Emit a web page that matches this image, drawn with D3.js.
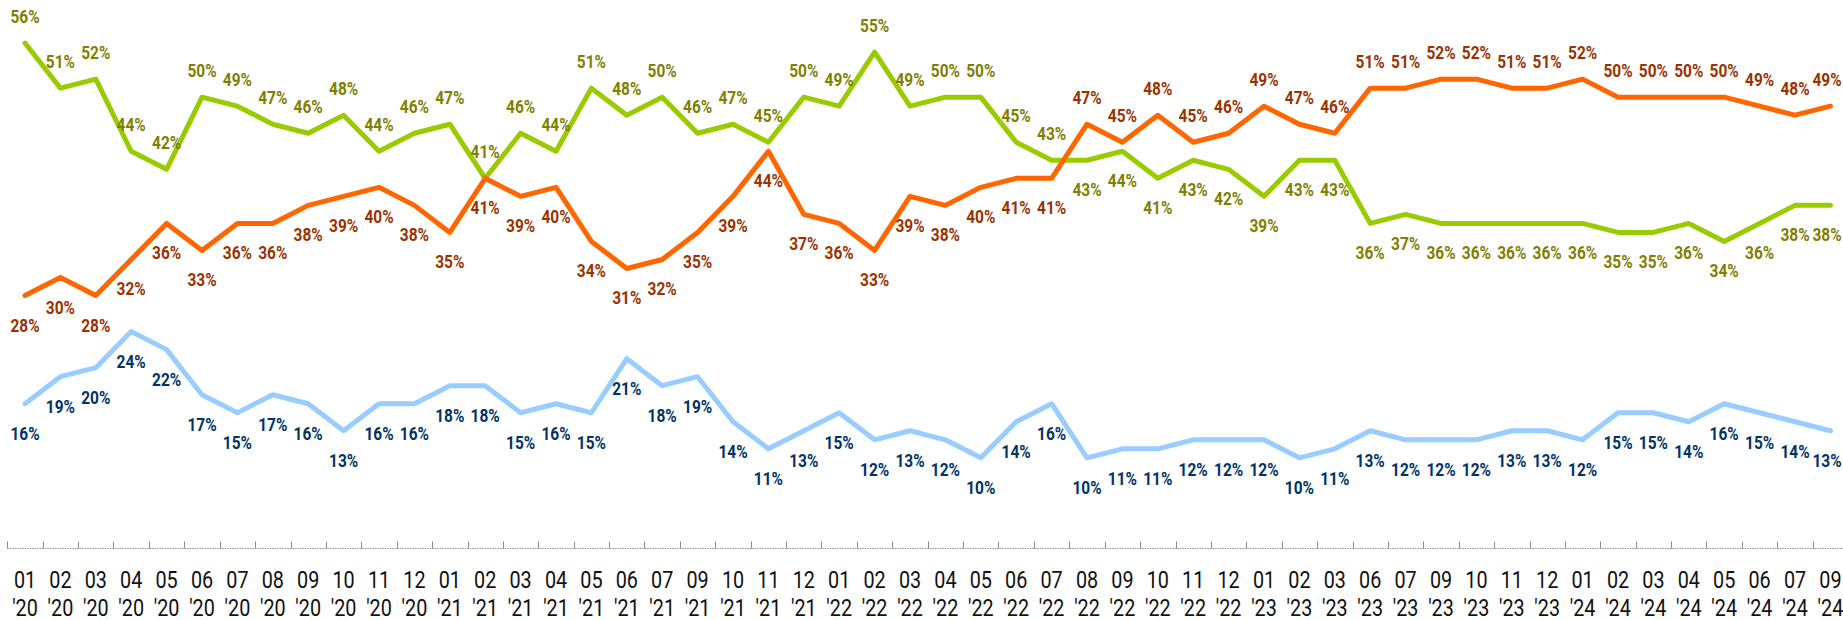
<!DOCTYPE html>
<html lang="en">
<head>
    <meta charset="UTF-8">
    <title>Line Chart</title>
    <script src="https://d3js.org/d3.v7.min.js"></script>
    <style>
        body { margin: 0; background: #fff; }
        svg text { font-family: Roboto, "Noto Sans", sans-serif; }
    </style>
</head>
<body>
<script>
    var periods = [
        "01 '20", "02 '20", "03 '20", "04 '20", "05 '20", "06 '20", "07 '20", "08 '20", "09 '20", "10 '20", "11 '20", "12 '20",
        "01 '21", "02 '21", "03 '21", "04 '21", "05 '21", "06 '21", "07 '21", "09 '21", "10 '21", "11 '21", "12 '21",
        "01 '22", "02 '22", "03 '22", "04 '22", "05 '22", "06 '22", "07 '22", "08 '22", "09 '22", "10 '22", "11 '22", "12 '22",
        "01 '23", "02 '23", "03 '23", "06 '23", "07 '23", "09 '23", "10 '23", "11 '23", "12 '23",
        "01 '24", "02 '24", "03 '24", "04 '24", "05 '24", "06 '24", "07 '24", "09 '24"
    ];

    var greenValues = [
        56, 51, 52, 44, 42, 50, 49, 47, 46, 48, 44, 46,
        47, 41, 46, 44, 51, 48, 50, 46, 47, 45, 50,
        49, 55, 49, 50, 50, 45, 43, 43, 44, 41, 43, 42,
        39, 43, 43, 36, 37, 36, 36, 36, 36,
        36, 35, 35, 36, 34, 36, 38, 38
    ];

    var orangeValues = [
        28, 30, 28, 32, 36, 33, 36, 36, 38, 39, 40, 38,
        35, 41, 39, 40, 34, 31, 32, 35, 39, 44, 37,
        36, 33, 39, 38, 40, 41, 41, 47, 45, 48, 45, 46,
        49, 47, 46, 51, 51, 52, 52, 51, 51,
        52, 50, 50, 50, 50, 49, 48, 49
    ];

    var blueValues = [
        16, 19, 20, 24, 22, 17, 15, 17, 16, 13, 16, 16,
        18, 18, 15, 16, 15, 21, 18, 19, 14, 11, 13,
        15, 12, 13, 12, 10, 14, 16, 10, 11, 11, 12, 12,
        12, 10, 11, 13, 12, 12, 12, 13, 13,
        12, 15, 15, 14, 16, 15, 14, 13
    ];

    var svgWidth = 1843, svgHeight = 620;
    var squeeze = 0.86;

    var svg = d3.select('body')
        .append('svg')
        .attr('width', svgWidth)
        .attr('height', svgHeight);

    var xScale = d3.scaleBand()
        .domain(d3.range(periods.length))
        .range([7.3, 7.3 + periods.length * 35.4]);

    var yScale = d3.scaleLinear()
        .domain([0, 60])
        .range([548, 7]);

    var cx = function(i) { return xScale(i) + xScale.bandwidth() / 2; };

    // keep the last labels inside the picture
    var labelX = function(i) { return Math.min(cx(i), svgWidth - 16); };

    // label goes above the line when this series is the higher one
    var series = [
        { values: greenValues, stroke: '#99cc00', textColor: '#808000',
          above: function(i) { return greenValues[i] >= orangeValues[i]; } },
        { values: orangeValues, stroke: '#ff6600', textColor: '#993300',
          above: function(i) { return orangeValues[i] > greenValues[i]; } },
        { values: blueValues, stroke: '#99ccff', textColor: '#003366',
          above: function() { return false; } }
    ];

    var line = d3.line()
        .x(function(d, i) { return cx(i); })
        .y(function(d) { return yScale(d); });

    // axis
    var axisY = 548.5;
    svg.append('line')
        .attr('x1', xScale.range()[0]).attr('x2', xScale.range()[1])
        .attr('y1', axisY).attr('y2', axisY)
        .attr('stroke', '#8c8c8c')
        .attr('stroke-width', 1)
        .attr('stroke-dasharray', '1.5,1');

    svg.selectAll('.tick')
        .data(d3.range(periods.length + 1))
        .enter()
        .append('line')
        .attr('class', 'tick')
        .attr('x1', function(i) { return Math.round(xScale.range()[0] + i * xScale.step()) + 0.5; })
        .attr('x2', function(i) { return Math.round(xScale.range()[0] + i * xScale.step()) + 0.5; })
        .attr('y1', axisY - 7)
        .attr('y2', axisY)
        .attr('stroke', '#8c8c8c')
        .attr('stroke-width', 1);

    var tickText = svg.selectAll('.tick-label')
        .data(periods)
        .enter()
        .append('text')
        .attr('class', 'tick-label')
        .attr('transform', function(d, i) { return 'translate(' + cx(i) + ',588) scale(' + squeeze + ',1)'; })
        .attr('text-anchor', 'middle')
        .attr('font-size', '23px')
        .attr('fill', '#111');

    tickText.append('tspan')
        .attr('x', 0).attr('y', 0)
        .text(function(d) { return d.split(' ')[0]; });
    tickText.append('tspan')
        .attr('x', 0).attr('y', 28)
        .text(function(d) { return d.split(' ')[1]; });

    // lines
    series.forEach(function(s) {
        svg.append('path')
            .datum(s.values)
            .attr('d', line)
            .attr('fill', 'none')
            .attr('stroke', s.stroke)
            .attr('stroke-width', 5)
            .attr('stroke-linejoin', 'round')
            .attr('stroke-linecap', 'round');
    });

    // data labels
    series.forEach(function(s) {
        svg.append('g')
            .selectAll('text')
            .data(s.values)
            .enter()
            .append('text')
            .attr('transform', function(d, i) {
                var y = s.above(i) ? yScale(d) - 20 : yScale(d) + 36;
                return 'translate(' + labelX(i) + ',' + y + ') scale(' + squeeze + ',1)';
            })
            .attr('text-anchor', 'middle')
            .attr('font-size', '18px')
            .attr('font-weight', 'bold')
            .attr('fill', s.textColor)
            .text(function(d) { return d + '%'; });
    });
</script>
</body>
</html>
